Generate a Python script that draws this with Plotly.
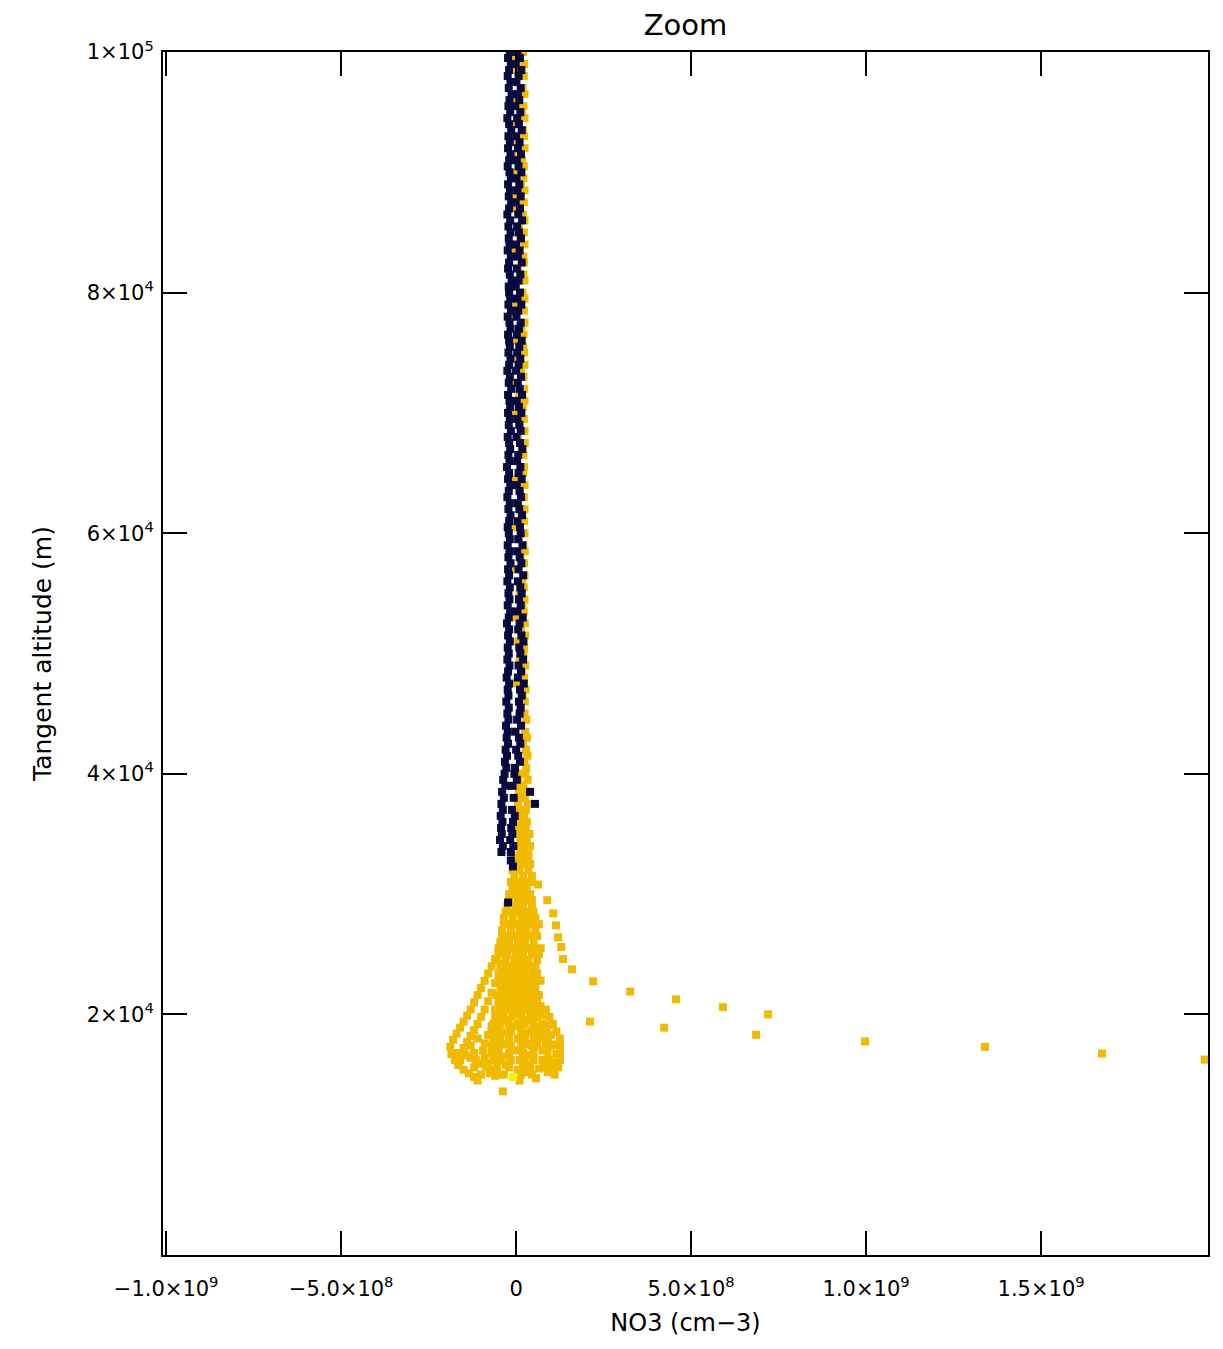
import plotly.graph_objects as go

# NO3 number density profiles, zoomed view
# x values are in units of 1e7 cm-3, altitudes in km

E7 = 1e7
KM = 1000.0

x_tickvals = [-1.0e9, -5.0e8, 0, 5.0e8, 1.0e9, 1.5e9]
x_ticktext = ["\u22121.0\u00d710<sup>9</sup>", "\u22125.0\u00d710<sup>8</sup>", "0",
              "5.0\u00d710<sup>8</sup>", "1.0\u00d710<sup>9</sup>", "1.5\u00d710<sup>9</sup>"]
y_tickvals = [2e4, 4e4, 6e4, 8e4, 1e5]
y_ticktext = ["2\u00d710<sup>4</sup>", "4\u00d710<sup>4</sup>", "6\u00d710<sup>4</sup>",
              "8\u00d710<sup>4</sup>", "1\u00d710<sup>5</sup>"]

# upper column, shared altitude grid
col_alt_km = [
    100.0, 99.5, 99.0, 98.5, 98.0, 97.5, 97.0, 96.5, 96.0, 95.5,
    95.0, 94.5, 94.0, 93.5, 93.0, 92.5, 92.0, 91.5, 91.0, 90.5,
    90.0, 89.5, 89.0, 88.5, 88.0, 87.5, 87.0, 86.5, 86.0, 85.5,
    85.0, 84.5, 84.0, 83.5, 83.0, 82.5, 82.0, 81.5, 81.0, 80.5,
    80.0, 79.5, 79.0, 78.5, 78.0, 77.5, 77.0, 76.5, 76.0, 75.5,
    75.0, 74.5, 74.0, 73.5, 73.0, 72.5, 72.0, 71.5, 71.0, 70.5,
    70.0, 69.5, 69.0, 68.5, 68.0, 67.5, 67.0, 66.5, 66.0, 65.5,
    65.0, 64.5, 64.0, 63.5, 63.0, 62.5, 62.0, 61.5, 61.0, 60.5,
    60.0, 59.5, 59.0, 58.5, 58.0, 57.5, 57.0, 56.5, 56.0, 55.5,
    55.0, 54.5, 54.0, 53.5, 53.0, 52.5, 52.0, 51.5, 51.0, 50.5,
    50.0, 49.5, 49.0, 48.5, 48.0, 47.5, 47.0, 46.5, 46.0, 45.5,
    45.0, 44.5, 44.0, 43.5, 43.0, 42.5, 42.0, 41.5, 41.0, 40.5,
    40.0, 39.5, 39.0, 38.5, 38.0, 37.5, 37.0, 36.5, 36.0, 35.5,
    35.0, 34.5, 34.0, 33.5]

navy_left_e7 = [
    -1.8, -2.3, -1.5, -2.0, -2.4, -1.6, -2.1, -1.3, -1.9, -2.2,
    -1.7, -2.5, -2.0, -1.4, -2.2, -1.8, -2.3, -1.6, -2.0, -2.4,
    -1.9, -1.5, -2.3, -1.8, -2.1, -1.4, -2.0, -2.5, -1.7, -2.2,
    -1.6, -2.1, -1.9, -2.4, -1.5, -2.0, -2.3, -1.8, -1.3, -2.1,
    -2.0, -1.7, -2.2, -1.5, -2.4, -1.9, -1.6, -2.3, -2.0, -1.8,
    -2.2, -1.6, -2.0, -2.5, -1.8, -2.1, -1.4, -2.3, -1.9, -1.7,
    -2.3, -1.8, -2.1, -1.5, -2.4, -2.0, -1.7, -2.2, -1.9, -2.6,
    -2.0, -2.3, -1.7, -2.1, -2.5, -1.8, -2.2, -1.6, -2.0, -2.4,
    -2.1, -1.8, -2.4, -1.9, -2.2, -1.6, -2.3, -2.0, -2.5, -1.8,
    -2.2, -1.9, -2.4, -1.7, -2.1, -2.6, -2.0, -2.3, -1.8, -2.4,
    -2.1, -2.5, -1.9, -2.3, -2.7, -2.0, -2.4, -2.2, -2.8, -2.1,
    -2.5, -2.2, -2.9, -2.4, -2.7, -2.3, -3.0, -2.6, -3.2, -2.8,
    -3.3, -3.7, -3.1, -4.0, -3.5, -4.2, -3.8, -4.4, -3.9, -4.3,
    -4.1, -4.6, -3.8, -4.2]

navy_right_e7 = [
    0.4, 1.1, -0.1, 1.5, 0.7, 0.1, 1.3, 0.5, 0.9, -0.2,
    1.2, 0.3, 0.8, 1.6, 0.0, 1.0, 0.5, 1.4, 0.2, 0.7,
    1.5, 0.1, 0.9, 0.4, 1.3, -0.1, 1.1, 0.6, 1.7, 0.3,
    0.8, 1.4, 0.0, 1.0, 0.5, 1.6, 0.2, 1.2, 0.7, -0.1,
    1.1, 0.4, 1.5, 0.6, 0.1, 1.3, 0.8, 0.2, 1.6, 0.9,
    0.3, 1.2, 0.7, 0.0, 1.4, 0.5, 1.0, 1.7, 0.2, 0.8,
    1.5, 0.4, 0.9, 1.3, 0.1, 1.1, 1.8, 0.6, 0.3, 1.2,
    0.7, 1.6, 0.2, 1.0, 1.4, 0.5, 0.9, 1.7, 0.4, 1.1,
    1.3, 0.6, 1.8, 0.3, 1.0, 1.5, 0.7, 2.0, 0.5, 1.2,
    1.6, 0.8, 1.3, 0.4, 1.9, 1.0, 0.6, 1.5, 2.1, 0.9,
    1.2, 2.0, 0.7, 1.4, 0.5, 2.2, 1.1, 1.6, 0.8, 1.3,
    1.0, 0.3, 1.4, -0.2, 0.8, 1.2, 0.0, 0.6, 1.1, -0.3,
    -0.5, 0.2, -1.0, 4.0, -0.7, 5.4, -1.2, -0.4, -0.9, -1.4,
    -1.1, -1.7, -0.8, -1.5]

gold_col_e7 = [
    2.0, -0.6, 2.3, 0.4, 2.2, -0.9, 1.8, 2.4, 0.1, 2.1,
    1.6, 2.4, -0.3, 2.0, 2.3, 0.6, 2.4, -1.0, 1.7, 2.2,
    -0.5, 2.1, 1.4, 2.4, 0.2, 2.2, -0.8, 1.9, 2.4, 0.8,
    2.2, 1.2, 2.4, -0.4, 2.0, 2.3, 0.5, 2.1, 2.4, -0.7,
    1.8, 2.4, 0.3, 2.2, -0.6, 2.4, 1.5, 2.1, -0.2, 2.0,
    2.3, 0.7, 2.4, 1.4, 2.1, -0.9, 2.3, 0.9, 2.4, 1.9,
    -0.3, 2.2, 1.1, 2.4, 0.5, 2.5, 1.6, 2.1, -0.8, 2.3,
    2.0, -0.1, 2.4, 1.0, 2.2, 0.4, 2.4, 1.5, 2.3, -0.5,
    2.4, 0.8, 2.1, 2.5, 1.2, 2.3, -0.2, 2.4, 1.7, 2.2,
    1.0, 2.4, 1.8, 2.2, -0.4, 2.5, 1.4, 2.6, 0.6, 2.3,
    2.1, 1.0, 2.6, 1.7, 2.3, 0.3, 2.7, 1.9, 2.5, 1.2,
    2.4, 2.9, 1.5, 2.6, 3.1, 2.0, 2.8, 3.2, 2.3, 2.9,
    2.6, 3.3, 2.1, 3.0, 2.5, 3.4, 2.8, 2.3, 3.1, 2.7,
    2.4, 3.0, 2.6, 2.9]

# a few navy points below the main column (alt_km, x_e7)
navy_extra = [(32.8, -1.5), (32.3, -0.9), (29.3, -2.3)]

# lower trunk of the gold profile (alt_km, x_e7)
gold_trunk = [
    (40.0, 1.0), (39.5, 0.6), (39.0, 1.2), (38.5, 0.8), (38.0, 1.3), (37.5, 0.5),
    (37.0, 1.1), (36.5, 0.7), (36.0, 1.4), (35.5, 0.9), (35.0, 0.4), (35.0, 3.8),
    (34.5, 1.2), (34.0, 0.6), (34.0, 4.0), (33.5, 1.0), (33.5, 3.5),
    (33.0, -0.5), (33.0, 1.5), (33.0, 3.5),
    (32.5, 0.0), (32.5, 2.0), (32.5, 4.0),
    (32.0, -1.0), (32.0, 1.0), (32.0, 3.5),
    (31.5, -0.5), (31.5, 2.0), (31.5, 4.5),
    (31.0, -1.5), (31.0, 0.5), (31.0, 2.5), (31.0, 4.5), (30.8, 6.3),
    (30.5, -1.0), (30.5, 1.0), (30.5, 3.0),
    (30.0, -2.0), (30.0, 0.0), (30.0, 2.0), (30.0, 4.0),
    (29.5, -2.0), (29.5, 0.5), (29.5, 2.5), (29.5, 4.5),
    (29.0, -2.5), (29.0, 0.0), (29.0, 2.0), (29.0, 4.5),
    (28.5, -3.0), (28.5, -1.0), (28.5, 1.0), (28.5, 3.0), (28.5, 5.0),
    (28.0, -3.5), (28.0, -1.0), (28.0, 1.5), (28.0, 3.5), (28.0, 5.5),
    (27.5, -3.5), (27.5, -1.5), (27.5, 0.5), (27.5, 2.5), (27.5, 4.5), (27.5, 6.5),
    (27.0, -4.0), (27.0, -1.5), (27.0, 1.0), (27.0, 3.0), (27.0, 5.5),
    (26.5, -4.0), (26.5, -2.0), (26.5, 0.0), (26.5, 2.0), (26.5, 4.0), (26.5, 6.0),
    (26.0, -4.5), (26.0, -2.0), (26.0, 0.5), (26.0, 2.5), (26.0, 5.0),
    (25.5, -5.0), (25.5, -3.0), (25.5, -1.0), (25.5, 1.0), (25.5, 3.0), (25.5, 5.0), (25.5, 7.0),
    (25.0, -5.0), (25.0, -2.5), (25.0, 0.0), (25.0, 2.0), (25.0, 4.5), (25.0, 6.5),
    (24.5, -5.5), (24.5, -3.0), (24.5, -0.5), (24.5, 1.5), (24.5, 3.5), (24.5, 6.0)]

# strands of the plume below ~26 km (alt_km, x_e7)
gold_plume = [
    # outer left loop
    (26.0, -4.0), (25.3, -5.0), (24.6, -6.0), (24.0, -7.0), (23.4, -8.0), (22.8, -9.0),
    (22.2, -10.0), (21.6, -11.0), (21.0, -12.0), (20.4, -13.0), (19.9, -14.0), (19.4, -15.0),
    (18.9, -16.0), (18.4, -17.0), (17.9, -18.0), (17.3, -18.8), (16.7, -18.5), (16.2, -17.5),
    (15.8, -16.5), (15.4, -15.0), (15.1, -13.5), (14.8, -12.0), (14.5, -11.0),
    # second strand
    (25.0, -3.0), (24.2, -4.0), (23.4, -5.0), (22.6, -6.0), (21.8, -7.0), (21.1, -8.0),
    (20.4, -9.0), (19.8, -10.0), (19.2, -11.0), (18.7, -12.0), (18.2, -13.0), (17.7, -14.0),
    (17.2, -15.0), (16.6, -14.5), (16.4, -13.0), (16.2, -11.5), (15.9, -10.0), (15.6, -8.5),
    (15.1, -7.5),
    # third strand
    (24.0, -2.0), (22.8, -3.0), (21.6, -4.0), (20.6, -5.0), (19.8, -6.0), (19.0, -7.0),
    (18.3, -8.0), (17.6, -9.0), (17.0, -9.5), (16.4, -9.0), (15.9, -8.0), (15.4, -7.0),
    (14.9, -6.0),
    # centre strands
    (23.5, -1.0), (22.5, -1.5), (21.5, -2.0), (20.5, -2.5), (19.5, -3.0), (18.5, -3.0),
    (17.5, -3.5), (16.5, -3.5), (15.8, -3.0), (15.0, -3.5), (13.6, -3.8),
    (23.0, 0.5), (22.0, 0.5), (21.0, 0.0), (20.0, 0.5), (19.0, 0.0), (18.0, 0.5),
    (17.0, 0.0), (16.2, 1.0), (15.4, 0.5), (14.5, 1.0),
    (23.5, 1.5), (22.5, 2.0), (21.5, 2.5), (20.5, 3.0), (19.5, 3.5), (18.5, 3.5),
    (17.5, 3.0), (16.6, 3.5), (15.8, 3.0), (15.2, 2.5),
    # right strands
    (24.5, 3.0), (23.5, 4.0), (22.5, 5.0), (21.6, 6.0), (20.7, 7.0), (19.9, 8.0),
    (19.1, 9.0), (18.3, 10.0), (17.5, 11.0), (16.7, 11.5), (16.0, 11.0), (15.6, 10.0),
    (15.2, 9.0),
    (22.0, 2.0), (21.0, 3.5), (20.0, 5.0), (19.0, 6.0), (18.0, 7.0), (17.0, 7.5),
    (16.2, 7.5), (15.5, 6.5), (14.7, 5.7)]

# denser core of the plume (alt_km, x_e7)
gold_core = [
    (24.0, -4.5), (24.0, -2.5), (24.0, -0.5), (24.0, 1.5), (24.0, 3.5), (24.0, 5.5),
    (23.4, -4.0), (23.4, -2.0), (23.4, 0.0), (23.4, 2.0), (23.4, 4.0), (23.4, 6.0),
    (22.8, -5.0), (22.8, -3.0), (22.8, -1.0), (22.8, 1.0), (22.8, 3.0), (22.8, 5.0), (22.8, 7.0),
    (22.2, -4.5), (22.2, -2.5), (22.2, -0.5), (22.2, 1.5), (22.2, 3.5), (22.2, 5.5),
    (21.6, -5.5), (21.6, -3.5), (21.6, -1.5), (21.6, 0.5), (21.6, 2.5), (21.6, 4.5), (21.6, 6.5),
    (21.0, -5.0), (21.0, -3.0), (21.0, -1.0), (21.0, 1.5), (21.0, 4.0), (21.0, 6.0),
    (20.4, -6.0), (20.4, -4.0), (20.4, -1.5), (20.4, 0.5), (20.4, 2.5), (20.4, 4.5), (20.4, 6.5), (20.4, 8.5),
    (19.8, -5.5), (19.8, -3.5), (19.8, -1.0), (19.8, 1.5), (19.8, 4.0), (19.8, 6.0), (19.8, 9.5),
    (19.2, -6.5), (19.2, -4.5), (19.2, -2.0), (19.2, 0.5), (19.2, 2.5), (19.2, 5.0), (19.2, 7.5), (19.2, 10.5),
    (18.6, -7.0), (18.6, -5.0), (18.6, -1.5), (18.6, 1.5), (18.6, 4.5), (18.6, 6.5), (18.6, 8.5), (18.6, 11.5),
    (18.0, -11.0), (18.0, -6.5), (18.0, -4.5), (18.0, -2.0), (18.0, 1.0), (18.0, 2.5), (18.0, 5.0),
    (18.0, 9.0), (18.0, 12.5),
    (17.4, -13.0), (17.4, -7.0), (17.4, -5.0), (17.4, -1.5), (17.4, 1.5), (17.4, 4.5), (17.4, 6.0),
    (17.4, 8.5), (17.4, 10.0), (17.4, 12.5),
    (16.8, -16.5), (16.8, -12.0), (16.8, -7.0), (16.8, -5.0), (16.8, -2.0), (16.8, 2.0), (16.8, 5.0),
    (16.8, 9.0), (16.8, 12.5),
    (16.2, -16.0), (16.2, -6.5), (16.2, -4.5), (16.2, -1.5), (16.2, 2.5), (16.2, 5.0), (16.2, 9.5),
    (16.2, 12.5),
    (15.6, -12.0), (15.6, -5.5), (15.6, -2.0), (15.6, 2.0), (15.6, 4.0), (15.6, 8.0), (15.6, 12.0),
    (15.0, -10.0), (15.0, -4.5), (15.0, 1.5), (15.0, 4.5), (15.0, 11.0)]

# isolated high values trailing to the right (alt_km, x_e7)
gold_tail = [
    (29.5, 8.9), (28.4, 10.6), (27.4, 11.4), (26.4, 12.0), (25.6, 12.9), (24.6, 13.4),
    (23.75, 16.0), (22.75, 22.0), (21.9, 32.6), (21.25, 45.7), (20.6, 59.1), (20.0, 72.0),
    (19.4, 21.1), (18.9, 42.3), (18.3, 68.6), (17.75, 99.7), (17.3, 134.0), (16.75, 167.4),
    (16.25, 196.8)]

yellow_pts = [(14.8, -0.9)]

NAVY = "#0a0a40"
GOLD = "#f0ba00"
YELLOW = "#fbf200"
FONT = "DejaVu Sans"

gold_pairs = (list(zip(col_alt_km, gold_col_e7)) + gold_trunk + gold_plume + gold_core
              + gold_tail)
navy_pairs = (list(zip(col_alt_km, navy_left_e7)) + list(zip(col_alt_km, navy_right_e7))
              + navy_extra)

fig = go.Figure()
for pairs, col in [(gold_pairs, GOLD), (navy_pairs, NAVY), (yellow_pts, YELLOW)]:
    fig.add_trace(go.Scatter(
        x=[p[1] * E7 for p in pairs],
        y=[p[0] * KM for p in pairs],
        mode="markers",
        marker=dict(symbol="square", size=8, color=col, line=dict(width=0)),
        showlegend=False))

axis_common = dict(
    showgrid=False, zeroline=False, showline=True, linecolor="black", linewidth=2,
    mirror="ticks", ticks="inside", ticklen=24, tickwidth=1.5, tickcolor="black",
    tickfont=dict(family=FONT, size=21, color="black"))

fig.update_xaxes(range=[-1.009e9, 1.977e9], tickmode="array", tickvals=x_tickvals,
                 ticktext=x_ticktext, ticklabelstandoff=14,
                 title=dict(text="NO3 (cm\u22123)", font=dict(family=FONT, size=24, color="black"),
                            standoff=14),
                 **axis_common)
fig.update_yaxes(range=[0, 1e5], tickmode="array", tickvals=y_tickvals,
                 ticktext=y_ticktext, ticklabelstandoff=3,
                 title=dict(text="Tangent altitude (m)", font=dict(family=FONT, size=25, color="black"),
                            standoff=28),
                 **axis_common)

# the page body adds an 8 px offset, so the figure is sized to land the frame at 163..1208 x 52..1255
fig.update_layout(
    width=1215, height=1341,
    margin=dict(l=155, r=15, t=44, b=94),
    paper_bgcolor="white", plot_bgcolor="white",
    title=dict(text="Zoom", x=0.5, xref="paper", xanchor="center",
               y=1 - 17 / 1341, yref="container", yanchor="middle",
               font=dict(family=FONT, size=29, color="black")),
    showlegend=False)

fig.write_html("out.html")
